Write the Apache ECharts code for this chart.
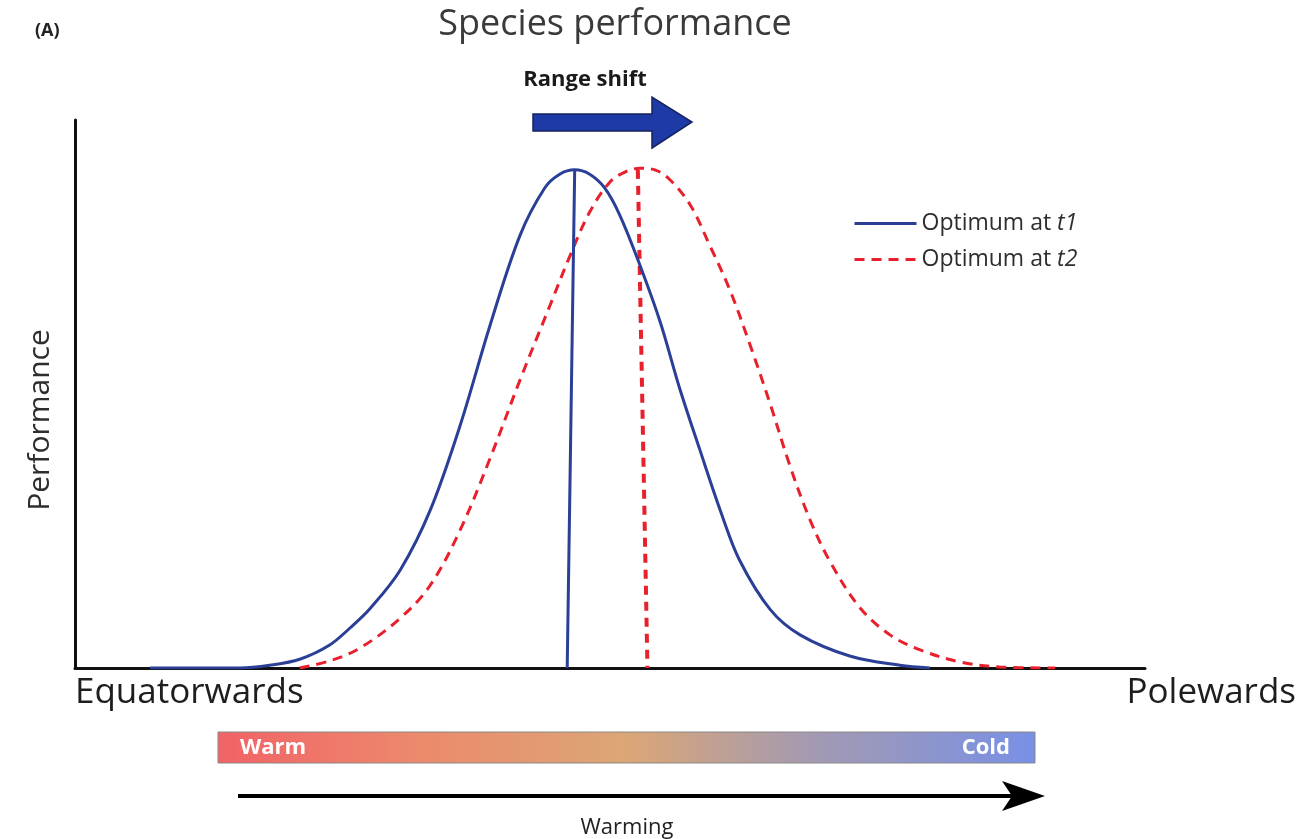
<!DOCTYPE html>
<html>
<head>
<meta charset="utf-8">
<script src="https://cdn.jsdelivr.net/npm/echarts@6/dist/echarts.min.js"></script>
<style>html,body{margin:0;padding:0;background:#fff}#c{width:1302px;height:839px}</style>
</head>
<body>
<div id="c"></div>
<script>
// Position along gradient (0 = equatorwards, 100 = polewards), performance (0-100)
const blueX = [7.0,15.4,18.2,21.0,23.8,25.7,27.6,30.4,33.2,36.0,38.8,41.6,43.9,45.3,46.7,48.1,49.5,50.9,52.8,54.7,56.5,58.4,60.3,62.1,65.0,67.8,72.4,77.1,79.9];
const blueY = [0,0,0.5,1.6,4.2,7.3,10.9,17.9,28.8,44.3,62.6,79.0,87.6,90.1,90.9,90.1,87.6,82.7,73.5,63.1,51.1,39.8,28.8,19.7,10.6,6.0,2.2,0.5,0];
const redX = [21.0,23.8,26.6,30.4,33.2,36.0,38.8,41.6,44.4,46.3,48.1,50.0,51.4,52.8,54.2,55.6,57.5,59.3,61.2,63.1,65.0,66.8,68.7,70.6,73.4,76.2,79.0,82.7,86.4,91.6];
const redY = [0,1.3,3.6,9.1,15.1,25.2,38.3,52.6,66.2,75.4,83.2,88.7,90.5,91.2,90.9,89.1,84.5,77.2,69.0,58.9,48.0,37.0,27.0,19.3,10.9,6.0,3.3,1.1,0.2,0];
const blueOptX = [46.7, 46.0];
const blueOptY = [90.9, 0];
const redOptX = [52.6, 53.5];
const redOptY = [90.9, 0];
const seriesNames = ['Optimum at t1', 'Optimum at t2'];

const zip = (a, b) => a.map((v, i) => [v, b[i]]);
const BLUE = '#2b3f96';
const RED = '#e8202c';
const FONT = '"Open Sans", sans-serif';

const chart = echarts.init(document.getElementById('c'));
chart.setOption({
  animation: false,
  backgroundColor: '#fff',
  title: {
    text: 'Species performance',
    left: 610, top: 2, textAlign: 'center',
    textStyle: { fontFamily: FONT, fontSize: 36, fontWeight: 'normal', color: '#3a3a3a' }
  },
  grid: { left: 75, right: 157, top: 120, bottom: 171 },
  xAxis: {
    type: 'value', min: 0, max: 100,
    axisLine: { show: true, lineStyle: { color: '#111', width: 3 } },
    axisTick: { show: false }, axisLabel: { show: false }, splitLine: { show: false }
  },
  yAxis: {
    type: 'value', min: 0, max: 100,
    axisLine: { show: true, lineStyle: { color: '#111', width: 3 } },
    axisTick: { show: false }, axisLabel: { show: false }, splitLine: { show: false }
  },
  legend: {
    data: seriesNames,
    orient: 'vertical', left: 848, top: 207, itemGap: 13,
    itemWidth: 62, itemHeight: 14,
    itemStyle: { opacity: 0 },
    lineStyle: { width: 3 },
    formatter: function (n) {
      const t = n.split(' at ');
      return '{a|' + t[0] + ' at }{b|' + t[1] + '}';
    },
    textStyle: {
      fontFamily: FONT, fontSize: 23, color: '#2e2e2e',
      rich: {
        a: { fontFamily: FONT, fontSize: 23, color: '#2e2e2e' },
        b: { fontFamily: FONT, fontSize: 23, color: '#2e2e2e', fontStyle: 'italic' }
      }
    }
  },
  series: [
    { name: seriesNames[0], type: 'line', data: zip(blueX, blueY), smooth: 0.35, symbol: 'none',
      lineStyle: { color: BLUE, width: 3 }, itemStyle: { color: BLUE }, z: 3 },
    { name: seriesNames[1], type: 'line', data: zip(redX, redY), smooth: 0.35, symbol: 'none',
      lineStyle: { color: RED, width: 3, type: [10, 7] }, itemStyle: { color: RED }, z: 2 },
    { name: 'opt1', type: 'line', data: zip(blueOptX, blueOptY), symbol: 'none',
      lineStyle: { color: BLUE, width: 3 }, z: 3 },
    { name: 'opt2', type: 'line', data: zip(redOptX, redOptY), symbol: 'none',
      lineStyle: { color: RED, width: 4, type: [9, 7] }, z: 2 }
  ],
  graphic: [
    { type: 'text', x: 35, y: 31, style: { text: '(A)', fontFamily: FONT, fontSize: 18, fontWeight: 'bold', fill: '#222', textVerticalAlign: 'middle' } },
    { type: 'text', x: 585, y: 80, style: { text: 'Range shift', fontFamily: FONT, fontSize: 22, fontWeight: 'bold', fill: '#1a1a1a', textAlign: 'center', textVerticalAlign: 'middle' } },
    { type: 'polygon', shape: { points: [[533,114],[652,114],[652,97],[692,122],[652,148],[652,131],[533,131]] },
      style: { fill: '#1d3aa6', stroke: '#14245e', lineWidth: 1.5 } },
    { type: 'text', x: 40, y: 420, rotation: Math.PI / 2, style: { text: 'Performance', fontFamily: FONT, fontSize: 30, fill: '#2e2e2e', textAlign: 'center', textVerticalAlign: 'middle' } },
    { type: 'text', x: 75, y: 693, style: { text: 'Equatorwards', fontFamily: FONT, fontSize: 35, fill: '#1e1e1e', textVerticalAlign: 'middle' } },
    { type: 'text', x: 1296, y: 693, style: { text: 'Polewards', fontFamily: FONT, fontSize: 35, fill: '#1e1e1e', textAlign: 'right', textVerticalAlign: 'middle' } },
    { type: 'rect', shape: { x: 218, y: 732, width: 817, height: 31 },
      style: {
        fill: new echarts.graphic.LinearGradient(0, 0, 1, 0, [
          { offset: 0, color: '#f26266' },
          { offset: 0.25, color: '#ec8a6c' },
          { offset: 0.5, color: '#dba676' },
          { offset: 0.72, color: '#a59ab0' },
          { offset: 1, color: '#7890e6' }
        ]),
        stroke: '#888', lineWidth: 1
      } },
    { type: 'text', x: 240, y: 748, style: { text: 'Warm', fontFamily: FONT, fontSize: 22, fontWeight: 'bold', fill: '#fff', textVerticalAlign: 'middle' } },
    { type: 'text', x: 1010, y: 748, style: { text: 'Cold', fontFamily: FONT, fontSize: 22, fontWeight: 'bold', fill: '#fff', textAlign: 'right', textVerticalAlign: 'middle' } },
    { type: 'line', shape: { x1: 238, y1: 796, x2: 1020, y2: 796 }, style: { stroke: '#000', lineWidth: 4 } },
    { type: 'polygon', shape: { points: [[1002,781],[1045,796],[1002,811],[1012,796]] }, style: { fill: '#000' } },
    { type: 'text', x: 627, y: 828, style: { text: 'Warming', fontFamily: FONT, fontSize: 22, fill: '#222', textAlign: 'center', textVerticalAlign: 'middle' } }
  ]
});
</script>
</body>
</html>
